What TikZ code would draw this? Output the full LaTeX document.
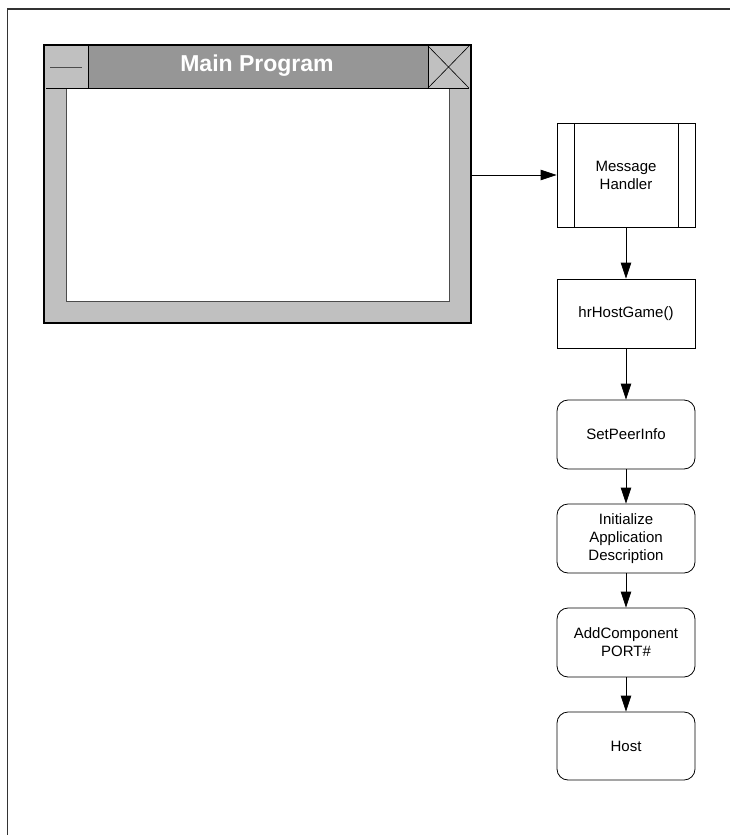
\documentclass[tikz,border=0pt]{standalone}
\usepackage{fontspec}
\setmainfont{Liberation Sans}
\usetikzlibrary{arrows.meta}
\definecolor{titlegray}{HTML}{969696}
\definecolor{framegray}{HTML}{C0C0C0}
\begin{document}
\begin{tikzpicture}[x=1pt,y=-1pt,
  box/.style={draw,line width=0.8pt,minimum width=138pt,inner sep=0pt,align=center,font=\fontsize{15}{18}\selectfont},
  rbox/.style={box,rounded corners=11pt},
  arr/.style={-{Triangle[length=16pt,width=10.5pt]},line width=0.8pt}]
\useasboundingbox (0,0) rectangle (730,835);
\draw[line width=1.5pt,draw=black!80] (7.5,835) -- (7.5,9) -- (730,9);
% window
\fill[framegray] (44,45) rectangle (471,323);
\fill[white] (66,88) rectangle (449,301);
\draw[line width=0.6pt,black!70] (66,88) -- (66,301) -- (449,301) -- (449,88);
\fill[titlegray] (46,46) rectangle (469,88);
\fill[framegray] (46,46) rectangle (88,88);
\fill[framegray] (428,46) rectangle (469,88);
\draw[line width=0.6pt] (88,46) -- (88,88);
\draw[line width=0.6pt] (428,46) -- (428,88);
\draw[line width=0.6pt] (46,88) -- (469,88);
\draw[line width=0.6pt] (428,46) -- (469,88) (428,88) -- (469,46);
\draw[line width=0.8pt,black!70] (50,67) -- (82,67);
\node[font=\fontsize{23}{26}\selectfont\bfseries,text=white] (title) at (257,66) {Main Program};
\draw[line width=2.2pt] (44,45) rectangle (471,323);
\coordinate (win) at (471,175);
% flow nodes
\node[box,minimum height=104pt] (mh) at (626,175) {Message\\Handler};
\draw[line width=0.8pt] (574,123) -- (574,227) (678,123) -- (678,227);
\node[box,minimum height=69pt] (hr) at (626,313.5) {hrHostGame()};
\node[rbox,minimum height=69pt] (sp) at (626,434.5) {SetPeerInfo};
\node[rbox,minimum height=69pt] (ia) at (626,538.5) {Initialize\\Application\\Description};
\node[rbox,minimum height=69pt] (ac) at (626,642.5) {AddComponent\\PORT\#};
\node[rbox,minimum height=68pt] (ho) at (626,746) {Host};
\draw[arr] (win) -- (mh.west);
\draw[arr] (mh) -- (hr);
\draw[arr] (hr) -- (sp);
\draw[arr] (sp) -- (ia);
\draw[arr] (ia) -- (ac);
\draw[arr] (ac) -- (ho);
\end{tikzpicture}
\end{document}
